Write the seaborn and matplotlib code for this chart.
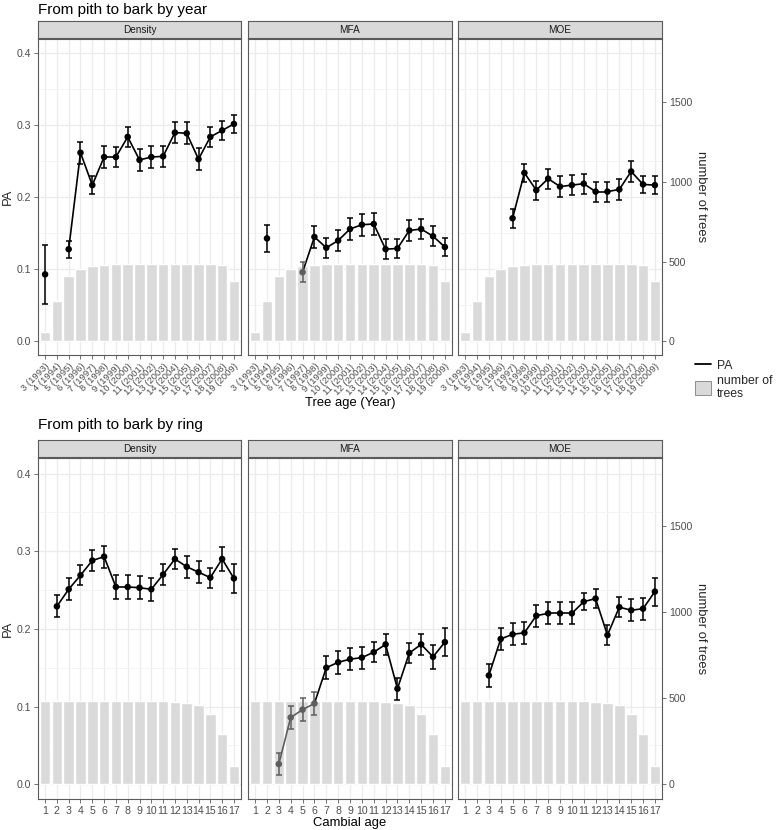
import numpy as np
import pandas as pd
import matplotlib
matplotlib.use("Agg")
import matplotlib.pyplot as plt
from matplotlib.lines import Line2D
from matplotlib.patches import Patch
from matplotlib.ticker import MultipleLocator
import seaborn as sns

nan = np.nan

# ---- data ----
year_labels = ["3 (1993)", "4 (1994)", "5 (1995)", "6 (1996)", "7 (1997)", "8 (1998)",
               "9 (1999)", "10 (2000)", "11 (2001)", "12 (2002)", "13 (2003)", "14 (2004)",
               "15 (2005)", "16 (2006)", "17 (2007)", "18 (2008)", "19 (2009)"]
trees_year = [60, 250, 410, 452, 475, 480, 483, 484, 485, 485, 485, 485, 484, 484, 483, 477, 380]

pa_year_density = [0.093, nan, 0.128, 0.262, 0.217, 0.256, 0.256, 0.284, 0.252, 0.256,
                   0.257, 0.290, 0.289, 0.253, 0.284, 0.293, 0.302]
err_year_density = [0.041, nan, 0.012, 0.015, 0.013, 0.015, 0.014, 0.014, 0.015, 0.015,
                    0.015, 0.015, 0.015, 0.015, 0.014, 0.013, 0.013]
pa_year_mfa = [nan, 0.143, nan, nan, 0.096, 0.145, 0.130, 0.140, 0.156, 0.162,
               0.163, 0.128, 0.129, 0.154, 0.156, 0.146, 0.131]
err_year_mfa = [nan, 0.019, nan, nan, 0.014, 0.015, 0.014, 0.015, 0.015, 0.015,
                0.015, 0.014, 0.013, 0.015, 0.014, 0.014, 0.013]
pa_year_moe = [nan, nan, nan, nan, 0.171, 0.234, 0.210, 0.226, 0.215, 0.217,
               0.219, 0.208, 0.208, 0.211, 0.236, 0.218, 0.217]
err_year_moe = [nan, nan, nan, nan, 0.013, 0.012, 0.013, 0.014, 0.014, 0.014,
                0.014, 0.014, 0.014, 0.014, 0.014, 0.012, 0.012]
faded_year_mfa = ["7 (1997)"]

ring_labels = [str(i) for i in range(1, 18)]
trees_ring = [485, 485, 485, 485, 485, 485, 485, 485, 485, 485, 484, 478, 472, 458, 410, 290, 104]

pa_ring_density = [nan, 0.229, 0.251, 0.269, 0.288, 0.293, 0.254, 0.254, 0.253, 0.251,
                   0.270, 0.290, 0.280, 0.273, 0.266, 0.290, 0.265]
err_ring_density = [nan, 0.014, 0.014, 0.013, 0.014, 0.014, 0.015, 0.015, 0.015, 0.015,
                    0.013, 0.013, 0.014, 0.014, 0.013, 0.015, 0.019]
pa_ring_mfa = [nan, nan, 0.026, 0.086, 0.096, 0.104, 0.150, 0.157, 0.161, 0.163,
               0.170, 0.180, 0.123, 0.169, 0.180, 0.164, 0.183]
err_ring_mfa = [nan, nan, 0.014, 0.015, 0.015, 0.015, 0.015, 0.015, 0.014, 0.014,
                0.013, 0.013, 0.014, 0.013, 0.014, 0.015, 0.018]
pa_ring_moe = [nan, nan, 0.140, 0.187, 0.193, 0.195, 0.217, 0.220, 0.220, 0.220,
               0.235, 0.239, 0.192, 0.228, 0.224, 0.226, 0.248]
err_ring_moe = [nan, nan, 0.015, 0.014, 0.014, 0.014, 0.014, 0.014, 0.014, 0.014,
                0.011, 0.012, 0.013, 0.013, 0.014, 0.014, 0.018]
faded_ring_mfa = ["3", "4", "5", "6"]

traits = ["Density", "MFA", "MOE"]
SCALE = 4510  # trees per PA unit on the secondary axis

sns.set_theme(style="whitegrid")
plt.rcParams["font.family"] = ["Liberation Sans", "DejaVu Sans"]

W, H = 778, 830
fig = plt.figure(figsize=(W / 100, H / 100), dpi=100)

panel_x = [(38, 241), (248, 452), (458, 662)]
BORDER = "#5a5a5a"
TXT = "#4d4d4d"


def px_axes(x0, y0, x1, y1):
    return fig.add_axes([x0 / W, 1 - y1 / H, (x1 - x0) / W, (y1 - y0) / H])


def draw_panel(ax, labels, trees, pa, err, faded, rotate, show_left, show_right):
    bars = pd.DataFrame({"cat": labels, "n": np.array(trees) / SCALE})
    sns.barplot(data=bars, x="cat", y="n", order=labels, color="#dadada",
                saturation=1, width=0.9, errorbar=None, ax=ax, zorder=1)
    df = pd.DataFrame({"cat": labels, "pa": pa, "err": err})
    df["pos"] = np.arange(len(labels))
    df["col"] = np.where(df["cat"].isin(faded), "#5e5e5e", "black")
    # line segments, broken where values are missing
    for i in range(1, len(df)):
        a, b = df.iloc[i - 1], df.iloc[i]
        if np.isnan(a.pa) or np.isnan(b.pa):
            continue
        ax.plot([a.pos, b.pos], [a.pa, b.pa], color=b.col, lw=1.2, zorder=3)
    for _, r in df.dropna().iterrows():
        ax.errorbar(r.pos, r.pa, yerr=r.err, fmt="none", ecolor=r.col,
                    elinewidth=1.1, capsize=2.2, capthick=1.1, zorder=3)
    sns.scatterplot(data=df.dropna(), x="pos", y="pa", hue="col",
                    palette={"black": "black", "#5e5e5e": "#5e5e5e"},
                    s=22, linewidth=0, legend=False, ax=ax, zorder=4)

    ax.set_xlim(-0.6, len(labels) - 0.4)
    ax.set_ylim(-0.019, 0.42)
    ax.set_axisbelow(True)
    ax.yaxis.set_major_locator(MultipleLocator(0.1))
    ax.yaxis.set_minor_locator(MultipleLocator(0.05))
    ax.grid(True, which="major", color="#ebebeb", lw=0.9)
    ax.grid(True, which="minor", axis="y", color="#f2f2f2", lw=0.6)
    ax.set_xticks(range(len(labels)))
    if rotate:
        ax.set_xticklabels(labels, rotation=45, ha="right", rotation_mode="anchor",
                           fontsize=6.8, color=TXT)
    else:
        ax.set_xticklabels(labels, fontsize=7.6, color=TXT)
    ax.tick_params(axis="both", which="major", length=3, width=0.6, color=BORDER,
                   pad=2, bottom=True, left=show_left)
    ax.tick_params(axis="y", which="minor", length=0)
    ax.tick_params(axis="y", labelsize=7.6, labelcolor=TXT)
    ax.yaxis.set_major_formatter(matplotlib.ticker.FormatStrFormatter("%.1f"))
    if not show_left:
        ax.set_yticklabels([])
    ax.set_xlabel("")
    ax.set_ylabel("")
    for s in ax.spines.values():
        s.set_visible(True)
        s.set_color(BORDER)
        s.set_linewidth(0.8)
    if show_right:
        sec = ax.secondary_yaxis("right", functions=(lambda y: y * SCALE, lambda n: n / SCALE))
        sec.set_yticks([0, 500, 1000, 1500])
        sec.tick_params(length=3, width=0.6, color=BORDER, labelsize=7.6,
                        labelcolor=TXT, pad=2)
        sec.spines["right"].set_visible(False)
        sec.set_ylabel("number of trees", rotation=-90, labelpad=11, fontsize=9.4)


def draw_strip(x0, x1, y0, y1, text):
    sa = px_axes(x0, y0, x1, y1)
    sa.set_facecolor("#d9d9d9")
    sa.set_xticks([])
    sa.set_yticks([])
    for s in sa.spines.values():
        s.set_color(BORDER)
        s.set_linewidth(0.8)
    sa.text(0.5, 0.45, text, ha="center", va="center", fontsize=7.2, color="#1a1a1a",
            transform=sa.transAxes)


rows = [
    dict(top=39, bottom=355, strip=21, title="From pith to bark by year", title_y=10,
         labels=year_labels, trees=trees_year,
         pa=[pa_year_density, pa_year_mfa, pa_year_moe],
         err=[err_year_density, err_year_mfa, err_year_moe],
         faded=[[], faded_year_mfa, []], rotate=True,
         xlabel="Tree age (Year)", xlabel_y=403),
    dict(top=458, bottom=799, strip=440, title="From pith to bark by ring", title_y=425,
         labels=ring_labels, trees=trees_ring,
         pa=[pa_ring_density, pa_ring_mfa, pa_ring_moe],
         err=[err_ring_density, err_ring_mfa, err_ring_moe],
         faded=[[], faded_ring_mfa, []], rotate=False,
         xlabel="Cambial age", xlabel_y=823),
]

for row in rows:
    for k, (x0, x1) in enumerate(panel_x):
        ax = px_axes(x0, row["top"], x1, row["bottom"])
        draw_panel(ax, row["labels"], row["trees"], row["pa"][k], row["err"][k],
                   row["faded"][k], row["rotate"], show_left=(k == 0), show_right=(k == 2))
        if k == 0:
            ax.set_ylabel("PA", fontsize=9.4, labelpad=2)
        draw_strip(x0, x1, row["strip"], row["top"] - 1, traits[k])
    fig.text(38 / W, 1 - row["title_y"] / H, row["title"], fontsize=11,
             ha="left", va="center", color="black")
    fig.text(350 / W, 1 - row["xlabel_y"] / H, row["xlabel"], fontsize=9.4,
             ha="center", va="center", color="black")

handles = [Line2D([0], [0], color="black", lw=1.3),
           Patch(facecolor="#d9d9d9", edgecolor="#7f7f7f", lw=0.6)]
fig.legend(handles, ["PA", "number of\ntrees"], loc="upper left",
           bbox_to_anchor=(690 / W, 1 - 353 / H), frameon=False, fontsize=8.8,
           handlelength=1.3, handleheight=1.5, handletextpad=0.5,
           labelspacing=0.15, borderaxespad=0)

fig.savefig("out.png", dpi=100)
